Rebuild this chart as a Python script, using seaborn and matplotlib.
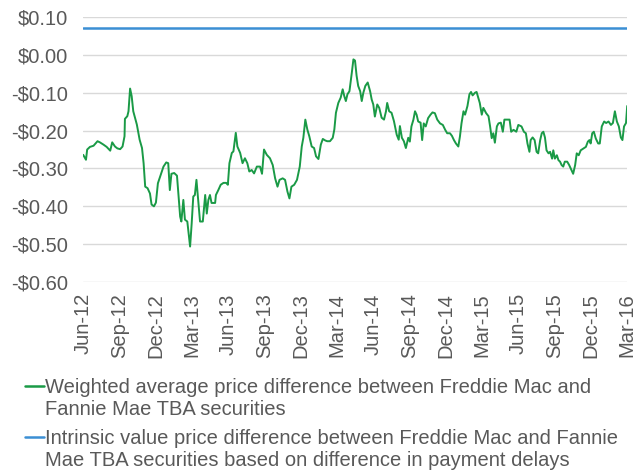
import pandas as pd
import numpy as np
import seaborn as sns
import matplotlib.pyplot as plt
import matplotlib.dates as mdates
from matplotlib.ticker import FuncFormatter
from matplotlib.lines import Line2D

# Weighted average price difference
dates = [
    '2012-06-01', '2012-06-08', '2012-06-11', '2012-06-18', '2012-06-27', '2012-07-07',
    '2012-07-13', '2012-07-22', '2012-07-30', '2012-08-08', '2012-08-13', '2012-08-20',
    '2012-08-26', '2012-09-02', '2012-09-08', '2012-09-13', '2012-09-14', '2012-09-20',
    '2012-09-23', '2012-09-27', '2012-10-01', '2012-10-05', '2012-10-14', '2012-10-21',
    '2012-10-27', '2012-10-31', '2012-11-04', '2012-11-10', '2012-11-16', '2012-11-20',
    '2012-11-26', '2012-12-01', '2012-12-06', '2012-12-13', '2012-12-20', '2012-12-27',
    '2013-01-01', '2013-01-05', '2013-01-09', '2013-01-16', '2013-01-23', '2013-01-27',
    '2013-01-31', '2013-02-03', '2013-02-08', '2013-02-12', '2013-02-18', '2013-02-25',
    '2013-03-01', '2013-03-05', '2013-03-09', '2013-03-13', '2013-03-18', '2013-03-22',
    '2013-03-29', '2013-04-04', '2013-04-08', '2013-04-12', '2013-04-16', '2013-04-20',
    '2013-04-29', '2013-05-01', '2013-05-07', '2013-05-13', '2013-05-20', '2013-05-27',
    '2013-05-31', '2013-06-04', '2013-06-10', '2013-06-14', '2013-06-20', '2013-06-24',
    '2013-07-01', '2013-07-07', '2013-07-13', '2013-07-19', '2013-07-24', '2013-07-30',
    '2013-08-05', '2013-08-12', '2013-08-20', '2013-08-25', '2013-08-30', '2013-09-06',
    '2013-09-14', '2013-09-21', '2013-09-27', '2013-10-03', '2013-10-08', '2013-10-16',
    '2013-10-22', '2013-10-28', '2013-11-02', '2013-11-07', '2013-11-14', '2013-11-21',
    '2013-11-28', '2013-12-03', '2013-12-07', '2013-12-12', '2013-12-17', '2013-12-22',
    '2013-12-28', '2014-01-03', '2014-01-08', '2014-01-14', '2014-01-20', '2014-01-25',
    '2014-01-31', '2014-02-05', '2014-02-12', '2014-02-19', '2014-02-23', '2014-02-27',
    '2014-03-05', '2014-03-11', '2014-03-16', '2014-03-20', '2014-03-24', '2014-03-28',
    '2014-04-02', '2014-04-08', '2014-04-12', '2014-04-16', '2014-04-20', '2014-04-24',
    '2014-04-29', '2014-05-03', '2014-05-07', '2014-05-12', '2014-05-18', '2014-05-24',
    '2014-05-28', '2014-06-01', '2014-06-05', '2014-06-11', '2014-06-16', '2014-06-22',
    '2014-06-28', '2014-07-03', '2014-07-06', '2014-07-11', '2014-07-17', '2014-07-23',
    '2014-07-30', '2014-08-04', '2014-08-07', '2014-08-12', '2014-08-17', '2014-08-22',
    '2014-08-28', '2014-09-01', '2014-09-05', '2014-09-10', '2014-09-14', '2014-09-18',
    '2014-09-22', '2014-09-28', '2014-10-02', '2014-10-06', '2014-10-11', '2014-10-17',
    '2014-10-23', '2014-10-28', '2014-11-03', '2014-11-09', '2014-11-16', '2014-11-23',
    '2014-11-29', '2014-12-04', '2014-12-11', '2014-12-16', '2014-12-21', '2014-12-26',
    '2015-01-01', '2015-01-05', '2015-01-09', '2015-01-14', '2015-01-18', '2015-01-24',
    '2015-01-29', '2015-02-02', '2015-02-06', '2015-02-12', '2015-02-16', '2015-02-20',
    '2015-02-24', '2015-03-01', '2015-03-05', '2015-03-12', '2015-03-18', '2015-03-22',
    '2015-03-26', '2015-03-30', '2015-04-03', '2015-04-08', '2015-04-12', '2015-04-18',
    '2015-04-23', '2015-04-27', '2015-05-03', '2015-05-10', '2015-05-14', '2015-05-20',
    '2015-05-27', '2015-06-01', '2015-06-09', '2015-06-15', '2015-06-20', '2015-06-24',
    '2015-06-29', '2015-07-02', '2015-07-07', '2015-07-12', '2015-07-17', '2015-07-21',
    '2015-07-26', '2015-07-30', '2015-08-03', '2015-08-07', '2015-08-11', '2015-08-16',
    '2015-08-20', '2015-08-25', '2015-08-28', '2015-09-01', '2015-09-06', '2015-09-10',
    '2015-09-14', '2015-09-18', '2015-09-22', '2015-09-26', '2015-10-02', '2015-10-07',
    '2015-10-13', '2015-10-17', '2015-10-22', '2015-10-26', '2015-10-31', '2015-11-05',
    '2015-11-12', '2015-11-18', '2015-11-23', '2015-11-27', '2015-11-30', '2015-12-04',
    '2015-12-08', '2015-12-13', '2015-12-19', '2015-12-23', '2015-12-28', '2016-01-03',
    '2016-01-08', '2016-01-14', '2016-01-20', '2016-01-25', '2016-01-30', '2016-02-04',
    '2016-02-09', '2016-02-14', '2016-02-18', '2016-02-22', '2016-02-27', '2016-03-01',
]
weighted_diff = [
    -0.264, -0.277, -0.250, -0.243, -0.240, -0.228,
    -0.231, -0.237, -0.243, -0.253, -0.231, -0.242,
    -0.247, -0.249, -0.242, -0.215, -0.169, -0.162,
    -0.149, -0.089, -0.109, -0.149, -0.184, -0.224,
    -0.246, -0.286, -0.348, -0.352, -0.366, -0.395,
    -0.400, -0.390, -0.339, -0.317, -0.295, -0.284,
    -0.286, -0.357, -0.314, -0.312, -0.319, -0.374,
    -0.427, -0.440, -0.383, -0.435, -0.440, -0.506,
    -0.445, -0.374, -0.370, -0.330, -0.391, -0.440,
    -0.440, -0.370, -0.419, -0.383, -0.370, -0.391,
    -0.391, -0.370, -0.357, -0.343, -0.338, -0.338,
    -0.343, -0.286, -0.259, -0.255, -0.206, -0.242,
    -0.259, -0.286, -0.273, -0.286, -0.308, -0.304,
    -0.313, -0.295, -0.295, -0.314, -0.250, -0.264,
    -0.273, -0.291, -0.326, -0.348, -0.330, -0.326,
    -0.330, -0.361, -0.379, -0.348, -0.343, -0.330,
    -0.295, -0.242, -0.219, -0.171, -0.197, -0.215,
    -0.242, -0.246, -0.268, -0.275, -0.237, -0.222,
    -0.226, -0.228, -0.228, -0.219, -0.197, -0.153,
    -0.127, -0.113, -0.091, -0.109, -0.122, -0.104,
    -0.096, -0.047, -0.012, -0.015, -0.055, -0.082,
    -0.096, -0.122, -0.100, -0.082, -0.073, -0.096,
    -0.118, -0.131, -0.163, -0.131, -0.140, -0.166,
    -0.171, -0.149, -0.127, -0.149, -0.153, -0.175,
    -0.211, -0.224, -0.188, -0.219, -0.228, -0.246,
    -0.219, -0.229, -0.189, -0.171, -0.149, -0.158,
    -0.176, -0.179, -0.225, -0.181, -0.189, -0.167,
    -0.158, -0.152, -0.154, -0.171, -0.181, -0.185,
    -0.198, -0.207, -0.207, -0.214, -0.225, -0.234,
    -0.242, -0.216, -0.181, -0.149, -0.158, -0.135,
    -0.104, -0.098, -0.107, -0.100, -0.098, -0.113,
    -0.127, -0.158, -0.140, -0.154, -0.162, -0.189,
    -0.220, -0.207, -0.232, -0.189, -0.181, -0.179,
    -0.203, -0.171, -0.171, -0.171, -0.203, -0.198,
    -0.203, -0.185, -0.189, -0.203, -0.207, -0.234,
    -0.256, -0.225, -0.218, -0.225, -0.256, -0.260,
    -0.225, -0.207, -0.203, -0.218, -0.252, -0.260,
    -0.256, -0.274, -0.252, -0.274, -0.265, -0.278,
    -0.282, -0.291, -0.295, -0.282, -0.282, -0.291,
    -0.305, -0.314, -0.291, -0.260, -0.265, -0.252,
    -0.247, -0.243, -0.229, -0.225, -0.234, -0.207,
    -0.203, -0.221, -0.234, -0.234, -0.189, -0.176,
    -0.180, -0.176, -0.185, -0.180, -0.149, -0.176,
    -0.189, -0.218, -0.225, -0.189, -0.180, -0.135,
]

# Intrinsic value difference (flat)
intrinsic_dates = ['2012-06-01', '2016-03-01']
intrinsic_diff = [0.07, 0.07]

tick_dates = ['2012-06-01', '2012-09-01', '2012-12-01', '2013-03-01', '2013-06-01',
              '2013-09-01', '2013-12-01', '2014-03-01', '2014-06-01', '2014-09-01',
              '2014-12-01', '2015-03-01', '2015-06-01', '2015-09-01', '2015-12-01',
              '2016-03-01']
y_ticks = [0.10, 0.00, -0.10, -0.20, -0.30, -0.40, -0.50, -0.60]

green = '#1a9a46'
blue = '#3b8fd4'
grey = '#595959'

label_w = 'Weighted average price difference between Freddie Mac and\nFannie Mae TBA securities'
label_i = ('Intrinsic value price difference between Freddie Mac and Fannie\n'
           'Mae TBA securities based on difference in payment delays')

df_w = pd.DataFrame({'date': pd.to_datetime(dates), 'value': weighted_diff})
df_i = pd.DataFrame({'date': pd.to_datetime(intrinsic_dates), 'value': intrinsic_diff})

sns.set_style('white')
plt.rcParams['font.family'] = ['Liberation Sans', 'DejaVu Sans']
fs = 14.5

fig = plt.figure(figsize=(6.4, 4.71), dpi=100)
ax = fig.add_axes([0.130, 0.401, 0.850, 0.563])

sns.lineplot(data=df_w, x='date', y='value', ax=ax, color=green, linewidth=1.4)
sns.lineplot(data=df_i, x='date', y='value', ax=ax, color=blue, linewidth=1.8)

ax.set_xlim(pd.Timestamp(tick_dates[0]), pd.Timestamp(tick_dates[-1]))
ax.set_ylim(-0.60, 0.10)
ax.set_yticks(y_ticks)
ax.yaxis.set_major_formatter(FuncFormatter(
    lambda v, p: ('-$%.2f' % abs(v)) if v < -0.001 else '$%.2f' % abs(v)))
ax.set_xticks(pd.to_datetime(tick_dates))
ax.xaxis.set_major_formatter(mdates.DateFormatter('%b-%y'))
ax.grid(axis='y', color='#d9d9d9', linewidth=1.0)
ax.set_axisbelow(True)
for s in ax.spines.values():
    s.set_visible(False)
ax.tick_params(axis='both', length=0, labelsize=fs, colors=grey)
ax.tick_params(axis='x', rotation=90, pad=8)
ax.tick_params(axis='y', pad=11)
ax.set_xlabel('')
ax.set_ylabel('')

# legend drawn by hand so the short line sits on the first text row
legend_rows = [(label_w, green, 0.181), (label_i, blue, 0.073)]
for text, col, yc in legend_rows:
    fig.add_artist(Line2D([0.039, 0.069], [yc, yc], color=col, linewidth=1.8,
                          transform=fig.transFigure))
    fig.text(0.071, yc + 0.017, text, fontsize=fs, color=grey, va='top', ha='left',
             linespacing=1.2)

fig.savefig('out.png', dpi=100)
